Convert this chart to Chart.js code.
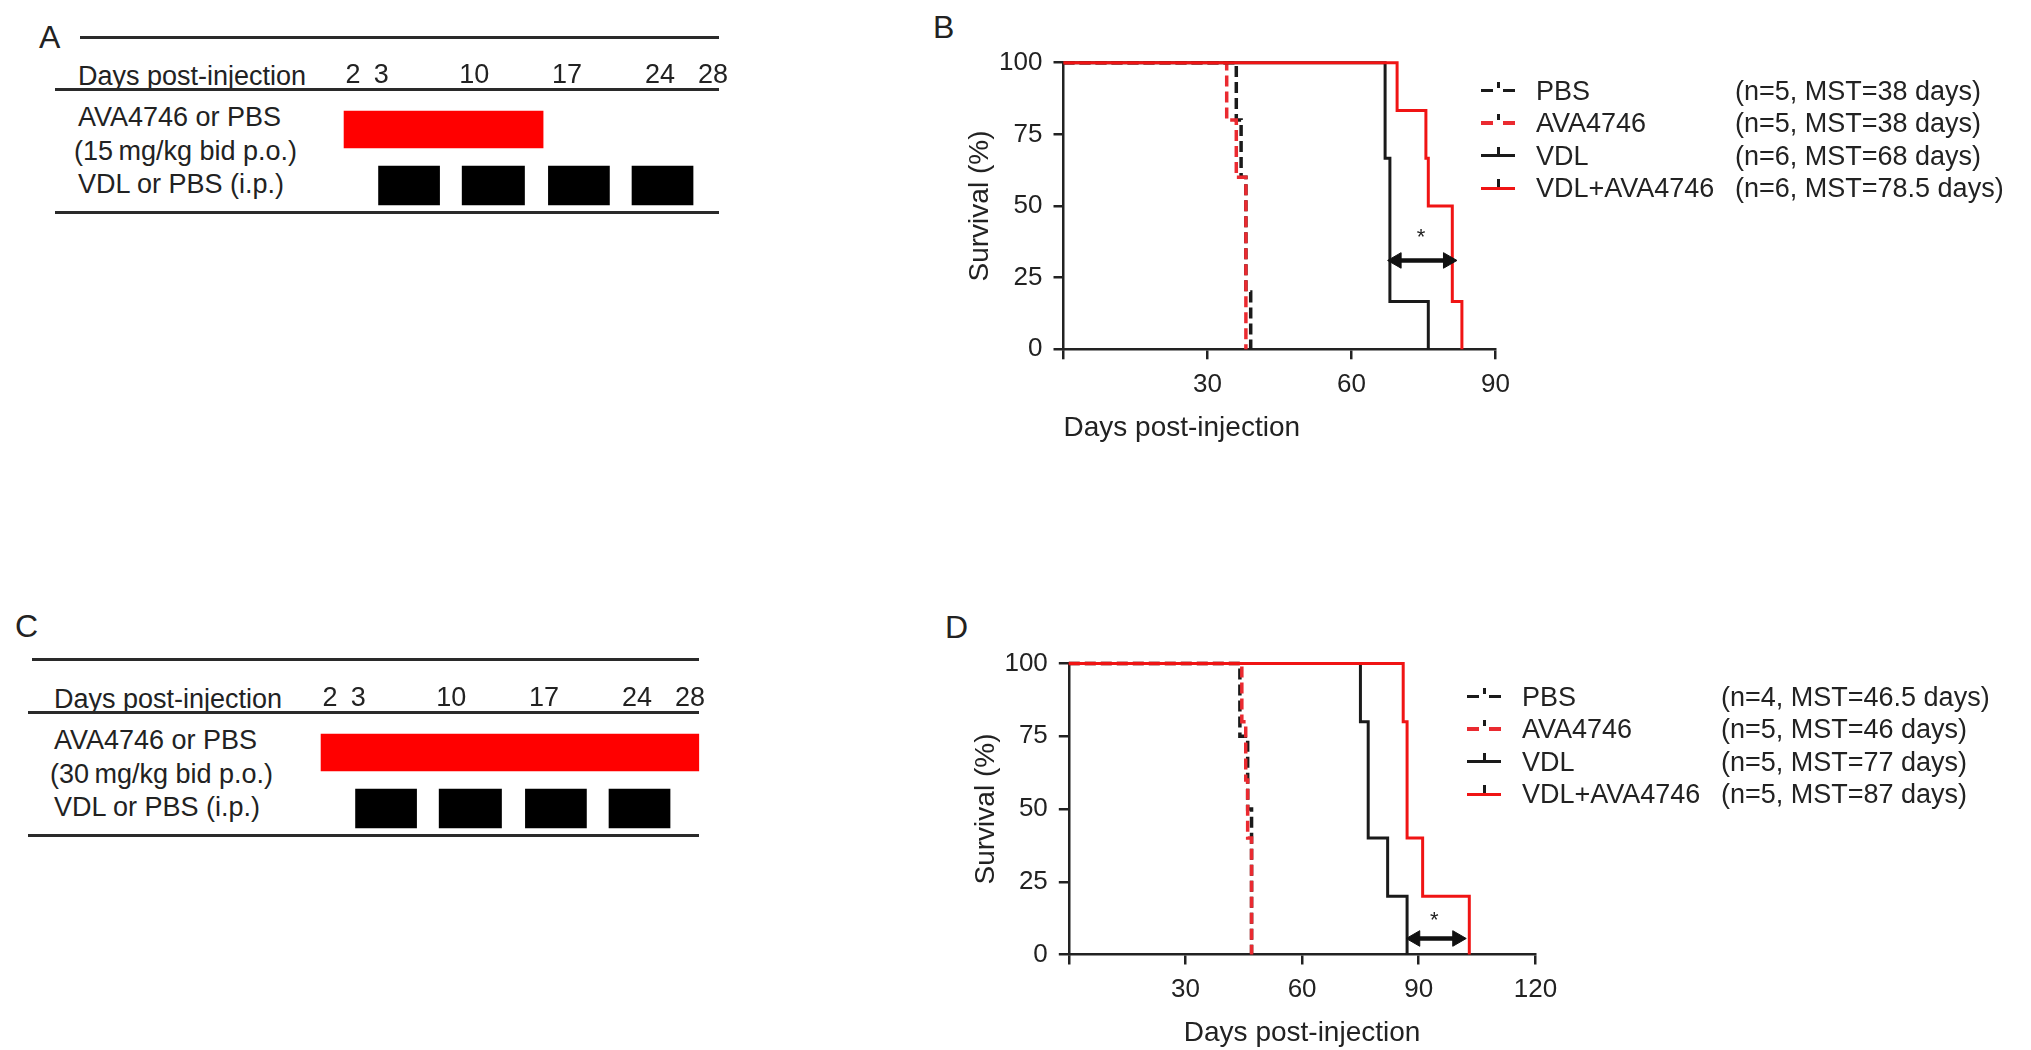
<!DOCTYPE html>
<html>
<head>
<meta charset="utf-8">
<script src="https://cdn.jsdelivr.net/npm/chart.js@4.4.1/dist/chart.umd.min.js"></script>
<style>
  body { margin: 0; background: #fff; }
  #page { position: relative; width: 2031px; height: 1050px; overflow: hidden;
          font-family: "Liberation Sans", Arial, Helvetica, sans-serif; color: #222; }
  .t { position: absolute; font-size: 27px; line-height: 32px; white-space: nowrap; }
  .letter { position: absolute; font-size: 32px; line-height: 38px; }
  .rule { position: absolute; height: 2.5px; background: #2a2a2a; }
  canvas { position: absolute; }
  .leg { position: absolute; height: 33px; width: 560px; font-size: 27px; line-height: 33px; white-space: nowrap; z-index: 2; }
  .leg span { position: absolute; top: 0; }
  .sw { position: absolute; left: 0; top: 16px; width: 34px; height: 0; }
  .sw i { position: absolute; display: block; }
</style>
</head>
<body>
<div id="page">
  <!-- panel A -->
  <div class="letter" style="left:39px; top:18px;">A</div>
  <div class="rule" style="left:80px; top:36px; width:639px;"></div>
  <div class="t" style="left:78px; top:60px;">Days post-injection</div>
  <div class="rule" style="left:55px; top:88px; width:664px;"></div>
  <div class="t" style="left:78px; top:101px;">AVA4746 or PBS</div>
  <div class="t" style="left:74px; top:135px;">(15&#8201;mg/kg bid p.o.)</div>
  <div class="t" style="left:78px; top:168px;">VDL or PBS (i.p.)</div>
  <div class="rule" style="left:55px; top:211px; width:664px;"></div>
  <canvas id="schedA" width="740" height="230" style="left:0; top:0;"></canvas>

  <!-- panel C -->
  <div class="letter" style="left:15px; top:607px;">C</div>
  <div class="rule" style="left:32px; top:658px; width:667px;"></div>
  <div class="t" style="left:54px; top:683px;">Days post-injection</div>
  <div class="rule" style="left:28px; top:711px; width:671px;"></div>
  <div class="t" style="left:54px; top:724px;">AVA4746 or PBS</div>
  <div class="t" style="left:50px; top:758px;">(30&#8201;mg/kg bid p.o.)</div>
  <div class="t" style="left:54px; top:791px;">VDL or PBS (i.p.)</div>
  <div class="rule" style="left:28px; top:834px; width:671px;"></div>
  <canvas id="schedC" width="720" height="230" style="left:0; top:623px;"></canvas>

  <!-- panel B -->
  <div class="letter" style="left:933px; top:8px;">B</div>
  <canvas id="survB"></canvas>
  <div id="legB"></div>

  <!-- panel D -->
  <div class="letter" style="left:945px; top:608px;">D</div>
  <canvas id="survD"></canvas>
  <div id="legD"></div>
</div>

<script>
// ---- dosing schedule (panels A and C), days post-injection ----
const scheduleDays = [2, 3, 10, 17, 24, 28];
const scheduleRows = ['AVA4746 or PBS', 'VDL or PBS'];
const avaCourseA = [2, 17];
const avaCourseC = [2, 30.5];
const vdlCourses = [[4.6, 9.2], [10.9, 15.6], [17.4, 22], [23.7, 28.3]];

// ---- survival groups ----
const groups = ['PBS', 'AVA4746', 'VDL', 'VDL+AVA4746'];
const survTicks = [0, 25, 50, 75, 100];

// panel B  [day, survival %]
const nB = [5, 5, 6, 6];
const mstB = [38, 38, 68, 78.5];
const pbsB = [[0, 100], [36, 80], [37, 60], [38, 20], [39, 0]];
const avaB = [[0, 100], [34, 80], [36, 60], [38, 0]];
const vdlB = [[0, 100], [67, 66.67], [68, 16.67], [76, 0]];
const comboB = [[0, 100], [69.5, 83.33], [75.5, 66.67], [76, 50], [81, 16.67], [83, 0]];
const dayTicksB = [0, 30, 60, 90];
const arrowB = [69.4, 80.1];
const arrowYB = 31;
const starB = [74.5, 39];

// panel D
const nD = [4, 5, 5, 5];
const mstD = [46.5, 46, 77, 87];
const pbsD = [[0, 100], [44, 75], [46, 50], [47, 0]];
const avaD = [[0, 100], [44.5, 80], [45.5, 60], [46, 40], [47, 0]];
const vdlD = [[0, 100], [75, 80], [77, 40], [82, 20], [87, 0]];
const comboD = [[0, 100], [86, 80], [87, 40], [91, 20], [103, 0]];
const dayTicksD = [0, 30, 60, 90, 120];
const arrowD = [89.1, 99.9];
const arrowYD = 5.5;
const starD = [94, 11.5];

Chart.defaults.font.family = '"Liberation Sans", Arial, Helvetica, sans-serif';
Chart.defaults.color = '#222';

const INK = '#1a1a1a';
const RED = '#f01414';
const lineStyles = [
  { color: INK, dash: [11, 5], width: 3.5 },
  { color: '#ea2a30', dash: [11, 5], width: 3.5 },
  { color: INK, dash: [], width: 3 },
  { color: RED, dash: [], width: 3 }
];

function scheduleChart(id, avaCourse, xMax, padLeft, canvasW) {
  const pxPerDay = 13.27;
  new Chart(document.getElementById(id), {
    type: 'bar',
    data: {
      labels: scheduleRows,
      datasets: [
        { data: [{ x: avaCourse, y: scheduleRows[0] }], backgroundColor: '#ff0000',
          barThickness: 37, grouped: false },
        { data: vdlCourses.map(c => ({ x: c, y: scheduleRows[1] })), backgroundColor: '#000',
          barThickness: 39, grouped: false }
      ]
    },
    options: {
      indexAxis: 'y',
      responsive: false,
      animation: false,
      events: [],
      layout: { padding: { left: padLeft, right: canvasW - padLeft - pxPerDay * xMax, top: 41.5, bottom: 16.5 } },
      plugins: { legend: { display: false }, tooltip: { enabled: false } },
      scales: {
        y: { type: 'category', display: false },
        x: {
          type: 'linear', position: 'top', min: 0, max: xMax,
          afterFit: s => { s.height = 60; },
          afterBuildTicks: s => { s.ticks = scheduleDays.map(v => ({ value: v })); },
          grid: { display: false, drawTicks: false },
          border: { display: false },
          ticks: {
            autoSkip: false, maxRotation: 0, padding: 9.3, labelOffset: 24,
            font: { size: 27 }, color: '#222',
            // the first two days sit close together, nudge "2" left
            callback: v => v === scheduleDays[0] ? v + '    ' : String(v)
          }
        }
      }
    }
  });
}

const starPlugin = {
  id: 'stars',
  afterDatasetsDraw(chart, args, opts) {
    const { ctx, scales: { x, y } } = chart;
    (opts.marks || []).forEach(m => {
      ctx.save();
      ctx.font = '22px "Liberation Sans", Arial, sans-serif';
      ctx.fillStyle = '#222';
      ctx.textAlign = 'center';
      ctx.textBaseline = 'middle';
      ctx.fillText('*', x.getPixelForValue(m[0]), y.getPixelForValue(m[1]));
      ctx.restore();
    });
  }
};

function survivalChart(cfg) {
  const cv = document.getElementById(cfg.id);
  cv.width = cfg.box.w;
  cv.height = cfg.box.h;
  cv.style.left = cfg.box.l + 'px';
  cv.style.top = cfg.box.t + 'px';
  const area = cfg.area;
  const yAxisW = area.l - cfg.box.l;
  const xAxisH = cfg.box.t + cfg.box.h - area.b;
  const titleLH = 28 * 1.2;

  const curveSets = cfg.curves.map((pts, i) => ({
    label: groups[i],
    data: pts.map(p => ({ x: p[0], y: p[1] })),
    stepped: 'before',
    borderColor: lineStyles[i].color,
    borderWidth: lineStyles[i].width,
    borderDash: lineStyles[i].dash,
    borderCapStyle: 'butt',
    borderJoinStyle: 'miter',
    pointRadius: 0,
    fill: false,
    clip: 6,
    order: 4 - i
  }));
  const arrowSet = {
    label: 'arrow',
    data: cfg.arrow.map(v => ({ x: v, y: cfg.arrowY })),
    borderColor: '#111',
    borderWidth: 4.5,
    pointStyle: 'triangle',
    pointRadius: 9,
    pointRotation: [-90, 90],
    pointBackgroundColor: '#111',
    pointBorderColor: '#111',
    pointBorderWidth: 1,
    fill: false,
    order: 0
  };

  const axisLine = { display: true, color: '#222', width: 2.5 };
  const tickMarks = { drawOnChartArea: false, drawTicks: true, tickLength: 10, color: '#222', lineWidth: 2.5 };

  new Chart(cv, {
    type: 'line',
    data: { datasets: [arrowSet, ...curveSets] },
    plugins: [starPlugin],
    options: {
      responsive: false,
      animation: false,
      events: [],
      layout: { padding: { left: 0, right: cfg.box.l + cfg.box.w - area.r, top: area.t - cfg.box.t, bottom: 0 } },
      plugins: {
        legend: { display: false },
        tooltip: { enabled: false },
        stars: { marks: [cfg.star] }
      },
      scales: {
        x: {
          type: 'linear', min: 0, max: cfg.xMax,
          afterFit: s => { s.height = xAxisH; },
          afterBuildTicks: s => { s.ticks = cfg.xTicks.map(v => ({ value: v })); },
          grid: tickMarks,
          border: axisLine,
          ticks: { padding: 10, font: { size: 26 }, color: '#222', maxRotation: 0,
                   callback: v => v === 0 ? '' : String(v) },
          title: { display: true, text: 'Days post-injection', align: cfg.titleAlign,
                   font: { size: 28 }, color: '#222',
                   padding: { top: 0, bottom: Math.max(0, xAxisH - 79 - titleLH / 2) } }
        },
        y: {
          type: 'linear', min: 0, max: 100,
          afterFit: s => { s.width = yAxisW; },
          afterBuildTicks: s => { s.ticks = survTicks.map(v => ({ value: v })); },
          grid: tickMarks,
          border: axisLine,
          ticks: { padding: 11, font: { size: 26 }, color: '#222' },
          title: { display: true, text: 'Survival (%)', font: { size: 28 }, color: '#222',
                   padding: { top: 0, bottom: 0 } }
        }
      }
    }
  });
}

function buildLegend(holderId, left, tops, ns, msts) {
  const holder = document.getElementById(holderId);
  groups.forEach((g, i) => {
    const st = lineStyles[i];
    const row = document.createElement('div');
    row.className = 'leg';
    row.style.left = left + 'px';
    row.style.top = (tops[i] - 16.5) + 'px';
    let sw;
    if (st.dash.length) {
      sw = `<i style="left:0;top:-1.75px;width:12px;height:3.5px;background:${st.color}"></i>` +
           `<i style="left:22px;top:-1.75px;width:12px;height:3.5px;background:${st.color}"></i>` +
           `<i style="left:16px;top:-9px;width:2.5px;height:6px;background:${INK}"></i>`;
    } else {
      sw = `<i style="left:0;top:-1.5px;width:34px;height:3px;background:${st.color}"></i>` +
           `<i style="left:16px;top:-9px;width:2.5px;height:8px;background:${INK}"></i>`;
    }
    row.innerHTML = `<div class="sw">${sw}</div>` +
      `<span style="left:55px">${g}</span>` +
      `<span style="left:254px">(n=${ns[i]}, MST=${msts[i]} days)</span>`;
    holder.appendChild(row);
  });
}

scheduleChart('schedA', avaCourseA, 30.3, 317.5, 740);
scheduleChart('schedC', avaCourseC, 30.5, 294.5, 720);

survivalChart({
  id: 'survB',
  box: { l: 963.2, t: 30, w: 567, h: 420 },
  area: { l: 1063.7, r: 1495.7, t: 62.7, b: 349.3 },
  curves: [pbsB, avaB, vdlB, comboB],
  xMax: 90, xTicks: dayTicksB,
  arrow: arrowB, arrowY: arrowYB, star: starB,
  titleAlign: 'start'
});
survivalChart({
  id: 'survD',
  box: { l: 968.9, t: 630, w: 601, h: 420 },
  area: { l: 1068.7, r: 1535.3, t: 663.5, b: 954.5 },
  curves: [pbsD, avaD, vdlD, comboD],
  xMax: 120, xTicks: dayTicksD,
  arrow: arrowD, arrowY: arrowYD, star: starD,
  titleAlign: 'center'
});

buildLegend('legB', 1481, [91, 123.5, 156, 188.5], nB, mstB);
buildLegend('legD', 1467, [697, 729.5, 762, 794.5], nD, mstD);
</script>
</body>
</html>
